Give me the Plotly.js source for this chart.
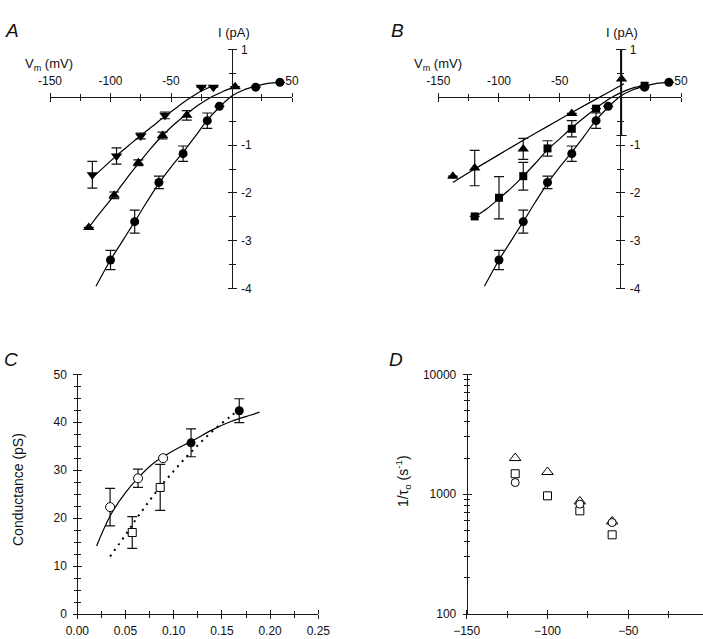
<!DOCTYPE html>
<html><head><meta charset="utf-8">
<script src="https://cdn.plot.ly/plotly-3.0.1.min.js"></script>
<style>html,body{margin:0;padding:0;background:#fff;}#g{width:703px;height:639px;}</style>
</head><body><div id="g"></div>
<script>
// ---------- Panel A / B : I-V relations ----------
const ivCircV   = [-100, -80, -60, -40, -20, -10, 20, 40];
const ivCircI   = [-3.40, -2.60, -1.78, -1.18, -0.49, -0.19, 0.21, 0.31];
const ivCircErr = [0.20, 0.24, 0.13, 0.16, 0.16, 0, 0, 0];
const ivCircFitV = [-112, -100, -90, -80, -70, -60, -50, -40, -30, -20, -10, 0, 10, 20, 30, 40];
const ivCircFitI = [-3.95, -3.40, -3.00, -2.60, -2.19, -1.80, -1.46, -1.15, -0.82, -0.48, -0.21, 0.02, 0.15, 0.23, 0.29, 0.31];

const aTriUpV   = [-118, -97, -77, -57, -37, 3];
const aTriUpI   = [-2.72, -2.05, -1.37, -0.80, -0.38, 0.22];
const aTriUpErr = [0, 0.07, 0.06, 0.07, 0.10, 0];
const aTriUpFitV = [-119, -110, -97, -87, -77, -67, -57, -47, -37, -27, -17, -7, 3];
const aTriUpFitI = [-2.76, -2.46, -2.05, -1.71, -1.39, -1.08, -0.80, -0.56, -0.35, -0.16, 0.0, 0.12, 0.22];

const aTriDnV   = [-115, -95, -75, -55, -25, -15];
const aTriDnI   = [-1.62, -1.23, -0.81, -0.38, 0.21, 0.21];
const aTriDnErr = [0.28, 0.17, 0.06, 0.07, 0, 0];
const aTriDnFitV = [-115, -105, -95, -85, -75, -65, -55, -45, -35, -25, -15];
const aTriDnFitI = [-1.68, -1.45, -1.22, -1.01, -0.80, -0.60, -0.40, -0.21, -0.03, 0.13, 0.24];

const bSqV   = [-120, -100, -80, -60, -40, -20, 20];
const bSqI   = [-2.49, -2.10, -1.65, -1.07, -0.66, -0.24, 0.24];
const bSqErr = [0, 0.44, 0.29, 0.16, 0.17, 0, 0];
const bSqFitV = [-120, -110, -100, -90, -80, -70, -60, -50, -40, -30, -20, -10, 0, 10, 20];
const bSqFitI = [-2.50, -2.33, -2.12, -1.90, -1.65, -1.38, -1.10, -0.87, -0.64, -0.43, -0.23, -0.05, 0.09, 0.19, 0.24];

const bTriV        = [-138, -120, -80, -40, 1];
const bTriI        = [-1.65, -1.48, -1.08, -0.34, 0.38];
const bTriErrPlus  = [0, 0.37, 0.22, 0, 0.62];
const bTriErrMinus = [0, 0.37, 0.22, 0, 1.18];
const bTriFitV = [-138, -120, -100, -80, -60, -40, -20, 0, 3];
const bTriFitI = [-1.78, -1.50, -1.20, -0.90, -0.61, -0.32, -0.04, 0.24, 0.28];

const ivXTicks = [-150, -100, -50, 50];
const ivXTickText = ['-150', '-100', '-50', '50'];
const ivXMinor = [-125, -75, -25, 25];
const ivYTicks = [-4, -3, -2, -1, 1];
const ivYTickText = ['-4', '-3', '-2', '-1', '1'];
const ivYMinor = [-3.5, -2.5, -1.5, -0.5, 0.5];

// ---------- Panel C : conductance ----------
const cOpenCircX = [0.034, 0.063, 0.089];
const cOpenCircY = [22.3, 28.3, 32.5];
const cOpenCircErr = [3.9, 1.9, 0];
const cOpenSqX = [0.057, 0.086];
const cOpenSqY = [17.0, 26.4];
const cOpenSqErr = [3.3, 4.8];
const cFilledX = [0.118, 0.168];
const cFilledY = [35.7, 42.4];
const cFilledErr = [2.9, 2.5];
const cSolidX = [0.020, 0.035, 0.050, 0.065, 0.080, 0.090, 0.100, 0.120, 0.140, 0.160, 0.180, 0.189];
const cSolidY = [14.2, 20.8, 25.3, 28.8, 31.6, 32.9, 34.1, 36.2, 38.4, 40.2, 41.5, 42.1];
const cDotX = [0.034, 0.050, 0.060, 0.070, 0.080, 0.090, 0.100, 0.110, 0.120, 0.130, 0.140, 0.150, 0.160, 0.167];
const cDotY = [12.0, 16.5, 19.5, 22.3, 25.0, 27.5, 29.8, 32.1, 34.2, 36.2, 38.1, 39.8, 41.4, 42.5];
const cXTicks = [0, 0.05, 0.10, 0.15, 0.20, 0.25];
const cXMinor = [0.025, 0.075, 0.125, 0.175, 0.225];
const cYTicks = [0, 10, 20, 30, 40, 50];
const cYMinor = [2.5, 5, 7.5, 12.5, 15, 17.5, 22.5, 25, 27.5, 32.5, 35, 37.5, 42.5, 45, 47.5];

// ---------- Panel D : 1/tau ----------
const dV = [-120, -100, -80, -60];
const dTri = [2000, 1530, 870, 592];
const dSq = [1480, 968, 726, 458];
const dCircV = [-120, -80, -60];
const dCirc = [1250, 825, 580];
const dXTicks = [-150, -100, -50, 0];
const dXMinor = [-125, -75, -25];
const dYTicks = [100, 1000, 10000];
const dYTickText = ['100', '1000', '10000'];
const dYMinor = [200, 300, 400, 500, 600, 700, 800, 900, 2000, 3000, 4000, 5000, 6000, 7000, 8000, 9000];

// ---------- geometry ----------
const W = 703, H = 639;
const px = v => v / W, py = v => 1 - v / H;
const FONT = 'Arial, "Liberation Sans", sans-serif';
const AX = '#1a1a1a';

const domAx = [px(50), px(292)];
const domBx = [px(438.3), px(681)];
const domTopY = [py(288.7), py(49.3)];
const xPosTop = domTopY[1] - 0.2 * (domTopY[1] - domTopY[0]);
const yPosA = domAx[0] + 0.75 * (domAx[1] - domAx[0]);
const yPosB = domBx[0] + 0.75 * (domBx[1] - domBx[0]);
const domCx = [px(77.3), px(318.3)];
const domDx = [px(466.7), 1];
const domBotY = [py(614), py(374.3)];

function axis(o) {
  return Object.assign({
    showgrid: false, zeroline: false, showline: true, linecolor: AX, linewidth: 1,
    ticks: 'outside', ticklen: 4, tickwidth: 1, tickcolor: AX,
    tickfont: {family: FONT, size: 12, color: '#111'},
    fixedrange: true, automargin: false, tickmode: 'array'
  }, o);
}
function ghost(o) {
  return Object.assign({
    showgrid: false, zeroline: false, showline: false, showticklabels: false,
    ticks: 'outside', ticklen: 4, tickwidth: 1, tickcolor: AX,
    fixedrange: true, automargin: false, tickmode: 'array'
  }, o);
}
function minor(vals, len) {
  return {tickmode: 'array', tickvals: vals, ticks: 'outside', ticklen: len || 3, tickwidth: 1, tickcolor: AX, showgrid: false};
}

const layout = {
  width: W, height: H, margin: {l: 0, r: 0, t: 0, b: 0},
  paper_bgcolor: '#fff', plot_bgcolor: 'rgba(0,0,0,0)', showlegend: false,
  font: {family: FONT, color: '#111'},
  // Panel A
  xaxis: axis({domain: domAx, range: [-150, 50], anchor: 'free', position: xPosTop, side: 'top',
    tickvals: ivXTicks, ticktext: ivXTickText, minor: minor(ivXMinor), ticklabelstandoff: 3}),
  yaxis: axis({domain: domTopY, range: [-4, 1], anchor: 'free', position: yPosA, side: 'right',
    tickvals: ivYTicks, ticktext: ivYTickText, minor: minor(ivYMinor), ticklabelstandoff: 2}),
  xaxis5: ghost({overlaying: 'x', range: [-150, 50], anchor: 'free', position: xPosTop, side: 'bottom',
    tickvals: ivXTicks, minor: minor(ivXMinor)}),
  yaxis5: ghost({overlaying: 'y', range: [-4, 1], anchor: 'free', position: yPosA, side: 'left',
    tickvals: ivYTicks, minor: minor(ivYMinor)}),
  // Panel B
  xaxis2: axis({domain: domBx, range: [-150, 50], anchor: 'free', position: xPosTop, side: 'top',
    tickvals: ivXTicks, ticktext: ivXTickText, minor: minor(ivXMinor), ticklabelstandoff: 3}),
  yaxis2: axis({domain: domTopY, range: [-4, 1], anchor: 'free', position: yPosB, side: 'right',
    tickvals: ivYTicks, ticktext: ivYTickText, minor: minor(ivYMinor), ticklabelstandoff: 2}),
  xaxis6: ghost({overlaying: 'x2', range: [-150, 50], anchor: 'free', position: xPosTop, side: 'bottom',
    tickvals: ivXTicks, minor: minor(ivXMinor)}),
  yaxis6: ghost({overlaying: 'y2', range: [-4, 1], anchor: 'free', position: yPosB, side: 'left',
    tickvals: ivYTicks, minor: minor(ivYMinor)}),
  // Panel C
  xaxis3: axis({domain: domCx, range: [0, 0.25], anchor: 'free', position: domBotY[0], side: 'bottom',
    tickvals: cXTicks, tickformat: '.2f', minor: minor(cXMinor), ticklabelstandoff: 2}),
  yaxis3: axis({domain: domBotY, range: [0, 50], anchor: 'free', position: domCx[0], side: 'left',
    tickvals: cYTicks, minor: minor(cYMinor), ticklabelstandoff: 4}),
  xaxis7: ghost({overlaying: 'x3', range: [0, 0.25], anchor: 'free', position: domBotY[0], side: 'top',
    tickvals: cXTicks, minor: minor(cXMinor)}),
  yaxis7: ghost({overlaying: 'y3', range: [0, 50], anchor: 'free', position: domCx[0], side: 'right',
    tickvals: cYTicks, minor: minor(cYMinor)}),
  // Panel D
  xaxis4: axis({domain: domDx, range: [-150, -3.8], anchor: 'free', position: domBotY[0], side: 'bottom',
    tickvals: dXTicks, minor: minor(dXMinor), ticklabelstandoff: 2}),
  yaxis4: axis({domain: domBotY, type: 'log', range: [2, 4], anchor: 'free', position: domDx[0], side: 'left',
    tickvals: dYTicks, ticktext: dYTickText, minor: minor(dYMinor, 2.5), ticklabelstandoff: 4}),
  xaxis8: ghost({overlaying: 'x4', range: [-150, -3.8], anchor: 'free', position: domBotY[0], side: 'top',
    tickvals: dXTicks, minor: minor(dXMinor)}),
  yaxis8: ghost({overlaying: 'y4', type: 'log', range: [2, 4], anchor: 'free', position: domDx[0], side: 'right',
    tickvals: dYTicks, minor: minor(dYMinor, 2.5)}),
  annotations: []
};

function note(text, x, y, size, extra) {
  layout.annotations.push(Object.assign({
    text: text, x: px(x), y: py(y), xref: 'paper', yref: 'paper', showarrow: false,
    xanchor: 'center', yanchor: 'middle', font: {family: FONT, size: size, color: '#111'}
  }, extra || {}));
}
note('<i>A</i>', 12, 30, 19);
note('<i>B</i>', 397, 30, 19);
note('<i>C</i>', 11, 359, 19);
note('<i>D</i>', 396, 359, 19);
note('I (pA)', 234, 32, 13);
note('I (pA)', 622, 32, 13);
note('V<sub>m</sub> (mV)', 49, 64, 13);
note('V<sub>m</sub> (mV)', 438, 64, 13);
note('Conductance (pS)', 18, 490, 14, {textangle: -90});
note('1/τ<sub>o</sub> (s<sup>-1</sup>)', 403, 481, 14, {textangle: -90});

const traces = [];
const BLK = '#000';
function errY(arr, minus) {
  const e = {type: 'data', array: arr, visible: true, color: '#111', thickness: 1.2, width: 5};
  if (minus) { e.symmetric = false; e.arrayminus = minus; }
  return e;
}
function fit(x, y, xa, ya, dash, w) {
  traces.push({type: 'scatter', mode: 'lines', x: x, y: y, xaxis: xa, yaxis: ya, hoverinfo: 'skip',
    line: {color: BLK, width: w || 1.2, shape: 'spline', dash: dash || 'solid'}});
}
function pts(x, y, xa, ya, sym, size, err, minus) {
  const t = {type: 'scatter', mode: 'markers', x: x, y: y, xaxis: xa, yaxis: ya, cliponaxis: false,
    marker: {symbol: sym, size: size, color: BLK, line: {width: 0}}};
  if (err) t.error_y = errY(err, minus);
  traces.push(t);
}
function openPts(x, y, xa, ya, sym, size, err) {
  const t = {type: 'scatter', mode: 'markers', x: x, y: y, xaxis: xa, yaxis: ya, cliponaxis: false,
    marker: {symbol: sym, size: size, color: '#fff', line: {width: 1, color: BLK}}};
  if (err) t.error_y = errY(err);
  traces.push(t);
}

// Panel A
fit(ivCircFitV, ivCircFitI, 'x', 'y');
fit(aTriUpFitV, aTriUpFitI, 'x', 'y');
fit(aTriDnFitV, aTriDnFitI, 'x', 'y');
pts(ivCircV, ivCircI, 'x', 'y', 'circle', 9, ivCircErr);
pts(aTriUpV, aTriUpI, 'x', 'y', 'triangle-up', 10, aTriUpErr);
pts(aTriDnV, aTriDnI, 'x', 'y', 'triangle-down', 10, aTriDnErr);
// Panel B
fit(ivCircFitV, ivCircFitI, 'x2', 'y2');
fit(bSqFitV, bSqFitI, 'x2', 'y2');
fit(bTriFitV, bTriFitI, 'x2', 'y2');
pts(ivCircV, ivCircI, 'x2', 'y2', 'circle', 9, ivCircErr);
pts(bSqV, bSqI, 'x2', 'y2', 'square', 8, bSqErr);
pts(bTriV, bTriI, 'x2', 'y2', 'triangle-up', 10, bTriErrPlus, bTriErrMinus);
// Panel C
fit(cSolidX, cSolidY, 'x3', 'y3', 'solid', 1.2);
fit(cDotX, cDotY, 'x3', 'y3', '2px,5px', 2);
openPts(cOpenCircX, cOpenCircY, 'x3', 'y3', 'circle', 9, cOpenCircErr);
openPts(cOpenSqX, cOpenSqY, 'x3', 'y3', 'square', 8, cOpenSqErr);
pts(cFilledX, cFilledY, 'x3', 'y3', 'circle', 9, cFilledErr);
// Panel D
openPts(dV, dTri, 'x4', 'y4', 'triangle-up', 10);
openPts(dV, dSq, 'x4', 'y4', 'square', 8);
openPts(dCircV, dCirc, 'x4', 'y4', 'circle', 8);
// ghost axes (crossing ticks)
[['x5','y5'],['x6','y6'],['x7','y7'],['x8','y8']].forEach(p => {
  traces.push({type: 'scatter', mode: 'markers', x: [], y: [], xaxis: p[0], yaxis: p[1], hoverinfo: 'skip'});
});

Plotly.newPlot('g', traces, layout, {staticPlot: true, displayModeBar: false});
</script>
</body></html>
